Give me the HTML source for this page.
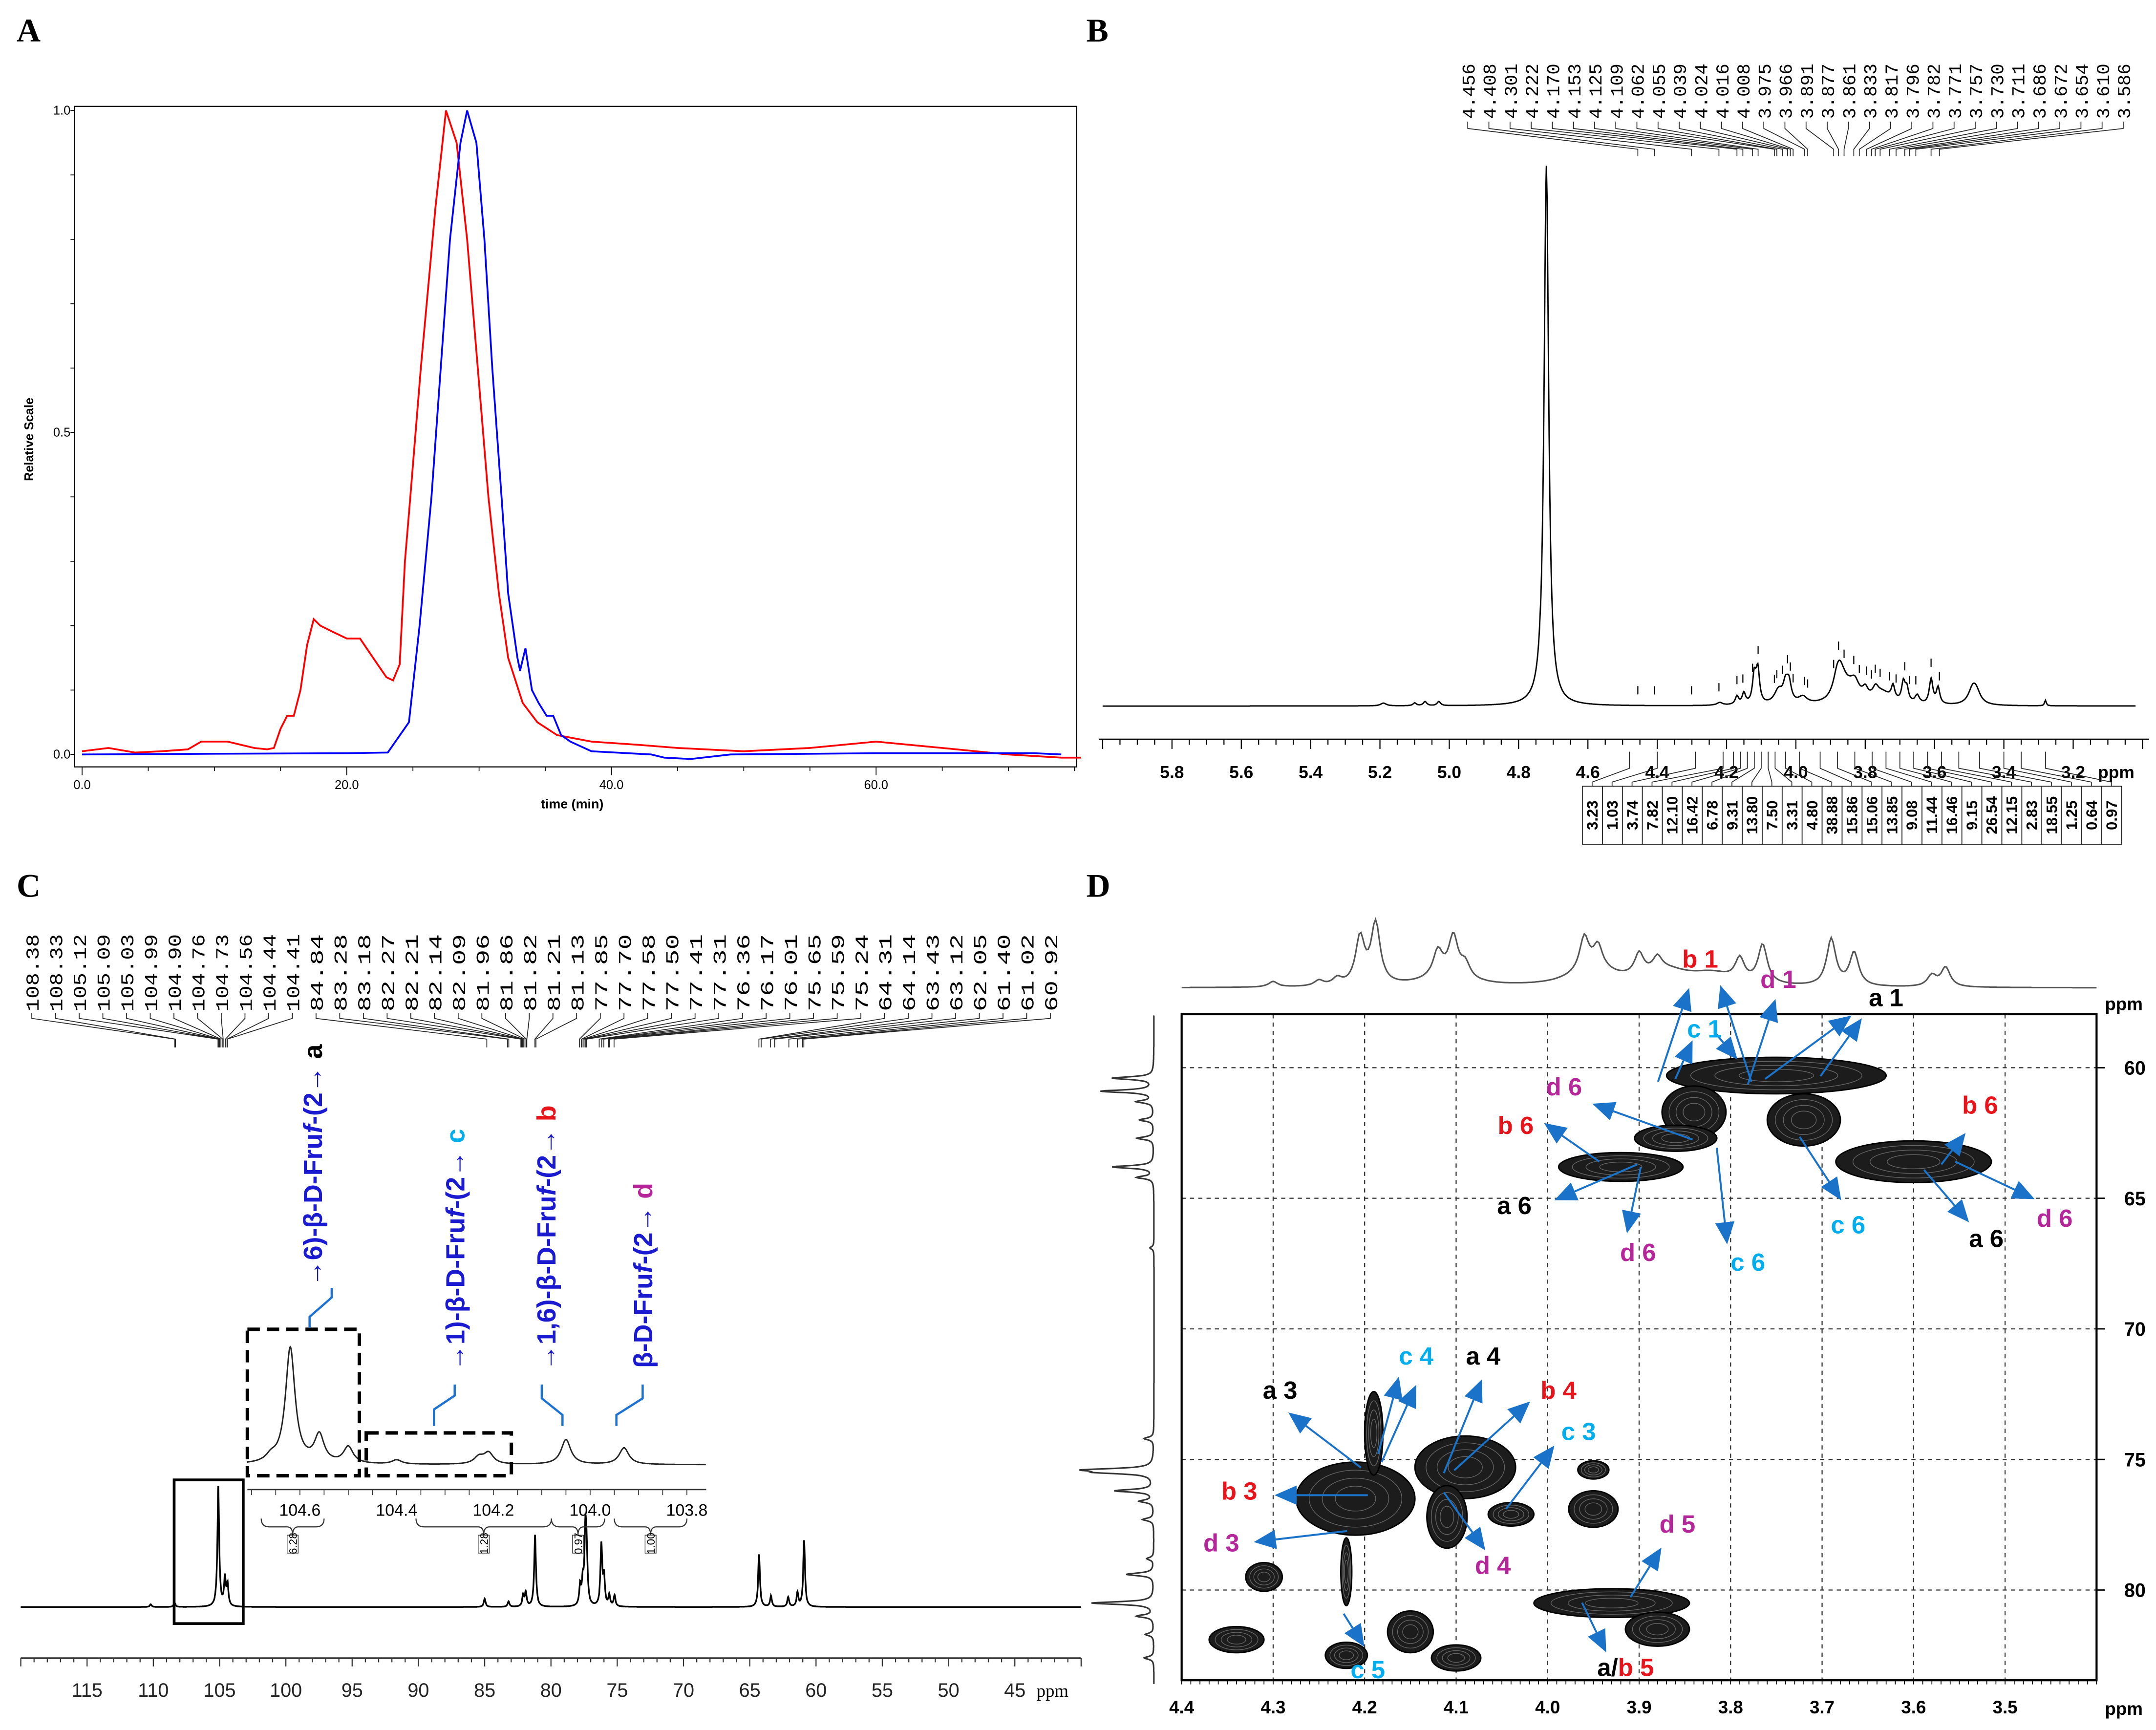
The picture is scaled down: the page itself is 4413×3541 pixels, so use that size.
<!DOCTYPE html>
<html><head><meta charset="utf-8">
<style>html,body{margin:0;padding:0;background:#fff}svg{display:block}</style>
</head><body>
<svg id="fig" xmlns="http://www.w3.org/2000/svg" width="4413" height="3541" viewBox="0 0 1560 1252" preserveAspectRatio="none" font-family="Liberation Sans, sans-serif">
<rect width="1560" height="1252" fill="#fff"/>
<text x="12" y="30" font-family="Liberation Serif, serif" font-weight="bold" font-size="24">A</text>
<text x="786" y="30" font-family="Liberation Serif, serif" font-weight="bold" font-size="24">B</text>
<text x="12" y="649" font-family="Liberation Serif, serif" font-weight="bold" font-size="24">C</text>
<text x="786" y="649" font-family="Liberation Serif, serif" font-weight="bold" font-size="24">D</text>
<g id="pA"></g>
<g id="pB"></g>
<g id="pC"></g>
<g id="pD"></g>
</svg>
<script>
// ---------- Panel A data ----------
const redTime=[0,2,4,6,8,9,10,11,12,13,14,14.5,15,15.5,16,16.5,17,17.5,18,19,20,21,22,23,23.5,24,24.4,24.8,25.6,26.7,27.5,28.3,29.1,29.9,30.7,31.5,32.2,33.3,34.4,35.9,38.5,42,45,50,55,60,65,70,74,75.5];
const redVal=[0.005,0.01,0.003,0.005,0.008,0.02,0.02,0.02,0.015,0.01,0.008,0.01,0.04,0.06,0.06,0.1,0.17,0.21,0.2,0.19,0.18,0.18,0.15,0.12,0.115,0.14,0.3,0.4,0.6,0.85,1.0,0.95,0.8,0.6,0.4,0.25,0.15,0.08,0.05,0.03,0.02,0.015,0.01,0.005,0.01,0.02,0.01,0.0,-0.005,-0.005];
const blueTime=[0,10,20,23.1,24.7,25.5,26.4,27.1,27.8,28.6,29.1,29.8,30.4,31,31.7,32.2,32.9,33.1,33.5,34,34.5,35.1,35.6,36.2,36.9,38.5,43,44,46,49,60,72,74];
const blueVal=[0,0.001,0.002,0.003,0.05,0.2,0.4,0.6,0.8,0.95,1.0,0.95,0.8,0.6,0.4,0.25,0.15,0.13,0.165,0.1,0.08,0.06,0.06,0.03,0.02,0.005,0.0,-0.005,-0.007,0.0,0.002,0.002,0.0];
const aTimeTicks=[0,20,40,60];
const aTimeLabels=['0.0','20.0','40.0','60.0'];
const aValTicks=[0,0.5,1];
const aValLabels=['0.0','0.5','1.0'];
// ---------- Panel B data ----------
const bPeakPpm=[4.72,4.12,4.11,4.15,4.17,4.03,4.02,4.05,3.98,3.88,3.87,3.83,3.80,3.77,3.72,3.69,3.68,3.65,3.61,3.59,3.49,3.48,5.19,5.10,5.07,5.03,4.22,3.28,3.85,3.75];
const bPeakHeight=[391,20,24,8,6,12,14,10,5,16,12,10,7,7,10,14,10,6,18,12,10,8,2,2,3,3,2,4,10,8];
const bPeakWidth=[0.008,0.006,0.006,0.006,0.006,0.008,0.008,0.015,0.015,0.015,0.015,0.015,0.01,0.01,0.006,0.006,0.006,0.008,0.006,0.006,0.015,0.015,0.01,0.006,0.006,0.006,0.01,0.003,0.03,0.03];
const bShiftLabels=['4.456','4.408','4.301','4.222','4.170','4.153','4.125','4.109','4.062','4.055','4.039','4.024','4.016','4.008','3.975','3.966','3.891','3.877','3.861','3.833','3.817','3.796','3.782','3.771','3.757','3.730','3.711','3.686','3.672','3.654','3.610','3.586'];
const bAxisTicks=[5.8,5.6,5.4,5.2,5.0,4.8,4.6,4.4,4.2,4.0,3.8,3.6,3.4,3.2];
const bIntegrals=['3.23','1.03','3.74','7.82','12.10','16.42','6.78','9.31','13.80','7.50','3.31','4.80','38.88','15.86','15.06','13.85','9.08','11.44','16.46','9.15','26.54','12.15','2.83','18.55','1.25','0.64','0.97'];
const bIntegralPpm=[4.48,4.40,4.29,4.21,4.18,4.16,4.14,4.12,4.10,4.08,4.06,4.03,3.99,3.93,3.88,3.83,3.78,3.74,3.70,3.66,3.62,3.58,3.53,3.47,3.40,3.35,3.28];
// ---------- Panel C data ----------
const cPeakPpm=[108.4,105.1,104.6,104.4,85.0,83.2,82.1,81.9,81.2,77.8,77.6,77.4,77.3,76.2,76.0,75.6,75.2,64.3,63.4,62.1,61.4,60.9,110.2];
const cPeakHeight=[3,87,20,15,6,4,8,10,52,14,16,52,30,44,20,8,8,38,8,7,10,48,2];
const cShiftLabels=['108.38','108.33','105.12','105.09','105.03','104.99','104.90','104.76','104.73','104.56','104.44','104.41','84.84','83.28','83.18','82.27','82.21','82.14','82.09','81.96','81.86','81.82','81.21','81.13','77.85','77.70','77.58','77.50','77.41','77.31','76.36','76.17','76.01','75.65','75.59','75.24','64.31','64.14','63.43','63.12','62.05','61.40','61.02','60.92'];
const cAxisTicks=[115,110,105,100,95,90,85,80,75,70,65,60,55,50,45];
const insetPeakPpm=[104.62,104.56,104.50,104.66,104.40,104.23,104.21,104.05,103.93];
const insetPeakHeight=[84,20,12,4,3,5,8,18,12];
const insetTicks=[104.6,104.4,104.2,104.0,103.8];
const insetIntegrals=['6.28','1.28','0.97','1.00'];
const insetIntegralFrom=[104.68,104.36,104.08,103.95];
const insetIntegralTo=[104.55,104.08,103.97,103.80];
// ---------- Panel D data ----------
const dHTicks=[4.4,4.3,4.2,4.1,4.0,3.9,3.8,3.7,3.6,3.5];
const dCTicks=[60,65,70,75,80];
const dProjHPpm=[4.205,4.188,4.12,4.103,4.09,3.96,3.945,3.90,3.88,3.79,3.765,3.69,3.665,3.565,3.58,4.30,4.25,4.23,3.95,3.87,3.82,4.11];
const dProjHAmp=[34,44,18,28,10,24,16,16,10,16,28,34,24,14,8,4,4,5,12,10,8,8];
const dProjCPpm=[60.4,60.9,61.3,62.0,62.7,63.8,64.2,66.9,74.2,75.4,75.5,76.2,76.6,77.3,78.8,79.4,80.5,81.0,81.7,82.6];
const dProjCAmp=[30,38,12,10,12,30,12,3,7,45,33,28,10,8,5,20,45,12,6,7];
const blobH=[3.75,3.84,3.86,3.72,3.92,3.60,4.21,4.22,4.19,4.09,4.11,4.04,3.95,3.95,4.31,3.93,3.88,4.34,4.22,4.15,4.10];
const blobC=[60.3,61.7,62.7,62.0,63.8,63.6,76.5,79.3,74.0,75.3,77.2,77.1,75.4,76.9,79.5,80.5,81.5,81.9,82.5,81.6,82.6];
const blobRH=[0.12,0.035,0.045,0.04,0.068,0.085,0.065,0.006,0.01,0.055,0.022,0.025,0.017,0.027,0.02,0.085,0.035,0.03,0.023,0.025,0.027];
const blobRC=[0.7,1.0,0.5,1.0,0.55,0.8,1.4,1.3,1.6,1.2,1.2,0.45,0.35,0.7,0.55,0.55,0.65,0.5,0.5,0.8,0.5];

const NS='http://www.w3.org/2000/svg';
function mk(tag,attrs,parent){const e=document.createElementNS(NS,tag);for(const k in attrs)e.setAttribute(k,attrs[k]);parent.appendChild(e);return e;}
function tx(str,attrs,parent){const e=mk('text',attrs,parent);e.textContent=str;return e;}
function lor(x,p,h,w){return h*w*w/((x-p)*(x-p)+w*w);}

// ================= Panel A =================
(function(){
const g=document.getElementById('pA');
const xA=t=>59.4+t*9.575, yA=v=>546-v*466;
let r=mk('rect',{x:54,y:77,width:725,height:478,fill:'none',stroke:'#000','stroke-width':0.8},g);


for(let t=0;t<=75;t+=5){let l=mk('line',{x1:xA(t),x2:xA(t),y1:555,y2:t%20===0?561:558,stroke:'#000','stroke-width':0.6},g);

}
aTimeTicks.forEach((t,i)=>{let e=tx(aTimeLabels[i],{x:xA(t),y:571,'font-size':9,'text-anchor':'middle'},g);

});
for(let v=0;v<=1.001;v+=0.1){let l=mk('line',{x1:51,x2:54,y1:yA(v),y2:yA(v),stroke:'#000','stroke-width':0.6},g);

}
aValTicks.forEach((v,i)=>{let e=tx(aValLabels[i],{x:51,y:yA(v)+3,'font-size':9,'text-anchor':'end'},g);

});
let xt=tx('time (min)',{x:414,y:585,'font-size':9.5,'font-weight':'bold','text-anchor':'middle'},g);


let yt=tx('Relative Scale',{x:0,y:0,'font-size':9,'font-weight':'bold','text-anchor':'middle',transform:'translate(24,318) rotate(-90)'},g);


let rp=mk('polyline',{points:redTime.map((t,i)=>xA(t).toFixed(1)+','+yA(redVal[i]).toFixed(1)).join(' '),fill:'none',stroke:'#f00','stroke-width':1.3},g);


let bp=mk('polyline',{points:blueTime.map((t,i)=>xA(t).toFixed(1)+','+yA(blueVal[i]).toFixed(1)).join(' '),fill:'none',stroke:'#00f','stroke-width':1.3},g);


})();

// ================= Panel B =================
(function(){
const g=document.getElementById('pB');
const xB=p=>848+(5.8-p)*250.8;
const base=511;
function specY(p){let s=0;bPeakPpm.forEach((q,i)=>{s+=lor(p,q,bPeakHeight[i],bPeakWidth[i]);});return base-s;}
let pts=[];for(let p=6.0;p>=3.02;p-=0.002)pts.push(xB(p).toFixed(1)+','+specY(p).toFixed(1));
let sp=mk('polyline',{points:pts.join(' '),fill:'none',stroke:'#000','stroke-width':1},g);


let ax=mk('line',{x1:795,x2:1555,y1:535,y2:535,stroke:'#000','stroke-width':1},g);


for(let p=6.0;p>=3.0;p-=0.05){let major=Math.abs(p*5-Math.round(p*5))<1e-6;
let l=mk('line',{x1:xB(p),x2:xB(p),y1:535,y2:major?542:539,stroke:'#000','stroke-width':0.8},g);

}
bAxisTicks.forEach(p=>{let e=tx(p.toFixed(1),{x:xB(p),y:563,'font-size':12.5,'font-weight':'bold','text-anchor':'middle'},g);

});
let pu=tx('ppm',{x:1518,y:563,'font-size':12.5,'font-weight':'bold'},g);


bShiftLabels.forEach((s,i)=>{const x=1062+i*15.3;const p=parseFloat(s);
let t=tx(s,{x:0,y:0,'font-family':'Liberation Mono, monospace','font-size':13,textLength:40,lengthAdjust:'spacingAndGlyphs',transform:`translate(${x+5},86) rotate(-90)`},g);


let f=mk('polyline',{points:`${x},88 ${x},93 ${xB(p)},108 ${xB(p)},113`,fill:'none',stroke:'#222','stroke-width':0.6},g);


let tk=mk('line',{x1:xB(p),x2:xB(p),y1:specY(p)-14,y2:specY(p)-8,stroke:'#000','stroke-width':0.8},g);

});
bIntegrals.forEach((s,i)=>{const bx=1145+i*14.45;const p=bIntegralPpm[i];
let c=mk('polyline',{points:`${xB(p)},544 ${xB(p)},556 ${bx+7},566 ${bx+7},569`,fill:'none',stroke:'#222','stroke-width':0.6},g);


let r=mk('rect',{x:bx,y:569,width:14.45,height:42,fill:'none',stroke:'#222','stroke-width':0.6},g);


let t=tx(s,{x:0,y:0,'font-size':11,'font-weight':'bold','text-anchor':'middle',transform:`translate(${bx+11},590) rotate(-90)`},g);

});
})();

// ================= Panel C =================
(function(){
const g=document.getElementById('pC');
const xC=p=>63+(115-p)*9.59;
const base=1163;
let pts=[];for(let p=120;p>=40;p-=0.02){let s=0;cPeakPpm.forEach((q,i)=>{s+=lor(p,q,cPeakHeight[i],0.08);});pts.push(xC(p).toFixed(1)+','+(base-s).toFixed(1));}
let sp=mk('polyline',{points:pts.join(' '),fill:'none',stroke:'#000','stroke-width':1.2},g);


let ax=mk('line',{x1:15,x2:782,y1:1200,y2:1200,stroke:'#333','stroke-width':1.2},g);


for(let p=120;p>=40;p-=1){let l=mk('line',{x1:xC(p),x2:xC(p),y1:1200,y2:p%5===0?1206:1203,stroke:'#333','stroke-width':0.8},g);

}
cAxisTicks.forEach(p=>{let e=tx(String(p),{x:xC(p),y:1228,'font-size':14,'text-anchor':'middle',fill:'#222'},g);

});
let pu=tx('ppm',{x:750,y:1228,'font-size':13,'font-family':'Liberation Serif, serif'},g);


cShiftLabels.forEach((s,i)=>{const x=23+i*17.14;const p=parseFloat(s);
let t=tx(s,{x:0,y:0,'font-family':'Liberation Mono, monospace','font-size':13,textLength:56,lengthAdjust:'spacingAndGlyphs',transform:`translate(${x+5},732) rotate(-90)`},g);


let f=mk('polyline',{points:`${x},733 ${x},737 ${xC(p)},752 ${xC(p)},758`,fill:'none',stroke:'#222','stroke-width':0.6},g);

});
let sb=mk('rect',{x:126,y:1071,width:50,height:104,fill:'none',stroke:'#000','stroke-width':2},g);


const xI=p=>217+(104.6-p)*350;
let ip=[];for(let p=104.71;p>=103.76;p-=0.001){let s=0;insetPeakPpm.forEach((q,i)=>{s+=lor(p,q,insetPeakHeight[i],0.012);});ip.push(xI(p).toFixed(1)+','+(1060-s).toFixed(1));}
let isp=mk('polyline',{points:ip.join(' '),fill:'none',stroke:'#222','stroke-width':1},g);


let iax=mk('line',{x1:179,x2:511,y1:1078,y2:1078,stroke:'#333','stroke-width':1},g);


for(let p=104.7;p>=103.76;p-=0.05){let l=mk('line',{x1:xI(p),x2:xI(p),y1:1078,y2:1082,stroke:'#333','stroke-width':0.6},g);

}
insetTicks.forEach(p=>{let e=tx(p.toFixed(1),{x:xI(p),y:1097,'font-size':12,'text-anchor':'middle'},g);

});
insetIntegrals.forEach((s,i)=>{const a=xI(insetIntegralFrom[i]),b=xI(insetIntegralTo[i]),m=(a+b)/2;
let pth=mk('path',{d:`M${a},1099 q0,6 6,6 L${m-4},1105 q4,0 4,6 q0,-6 4,-6 L${b-6},1105 q6,0 6,-6`,fill:'none',stroke:'#333','stroke-width':0.8},g);


let r=mk('rect',{x:m-4,y:1111,width:8,height:13,fill:'none',stroke:'#333','stroke-width':0.5},g);


let t=tx(s,{x:0,y:0,'font-size':8,'text-anchor':'middle',transform:`translate(${m+3},1117) rotate(-90)`},g);

});
let d1=mk('rect',{x:179,y:962,width:81,height:106,fill:'none',stroke:'#000','stroke-width':2.5,'stroke-dasharray':'9,5'},g);


let d2=mk('rect',{x:265,y:1037,width:105,height:31,fill:'none',stroke:'#000','stroke-width':2.5,'stroke-dasharray':'9,5'},g);


const conns=[[224,961,224,953,240,939,240,932],[314,1032,314,1020,329,1010,329,1002],[407,1032,407,1024,392,1012,392,1002],[446,1032,446,1024,465,1012,465,1002]];
conns.forEach(c=>{let p=mk('polyline',{points:`${c[0]},${c[1]} ${c[2]},${c[3]} ${c[4]},${c[5]} ${c[6]},${c[7]}`,fill:'none',stroke:'#1e73d2','stroke-width':1.6},g);

});
const labs=[[233,931,'→6)-β-D-Fru','-(2→ ','a','#000'],[336,992,'→1)-β-D-Fru','-(2→ ','c','#00aeef'],[402,992,'→1,6)-β-D-Fru','-(2→ ','b','#e8141b'],[472,990,'β-D-Fru','-(2→ ','d','#b5269a']];
labs.forEach(L=>{let t=mk('text',{x:0,y:0,'font-size':19,'font-weight':'bold',fill:'#1a1ad0',transform:`translate(${L[0]},${L[1]}) rotate(-90)`},g);


let s1=mk('tspan',{},t);s1.textContent=L[2];
let s2=mk('tspan',{'font-style':'italic'},t);s2.textContent='f';
let s3=mk('tspan',{},t);s3.textContent=L[3];
let s4=mk('tspan',{fill:L[5]},t);s4.textContent=L[4];});
})();

// ================= Panel D =================
(function(){
const g=document.getElementById('pD');
const xD=h=>855+(4.4-h)*662, yD=c=>772.7+(c-60)*18.9;
const zx=v=>784.7+v*0.5, zy=v=>629.2+v*0.399;
dHTicks.slice(1).forEach(h=>{let l=mk('line',{x1:xD(h),x2:xD(h),y1:734,y2:1216,stroke:'#333','stroke-width':0.8,'stroke-dasharray':'3,3'},g);

});
dCTicks.forEach(c=>{let l=mk('line',{x1:855,x2:1517,y1:yD(c),y2:yD(c),stroke:'#333','stroke-width':0.8,'stroke-dasharray':'3,3'},g);


let e=tx(String(c),{x:1537,y:yD(c)+5,'font-size':14,'font-weight':'bold'},g);


let k=mk('line',{x1:1517,x2:1523,y1:yD(c),y2:yD(c),stroke:'#000','stroke-width':1},g);

});
let fr=mk('rect',{x:855,y:734,width:662,height:482,fill:'none',stroke:'#000','stroke-width':1.5},g);


for(let h=4.4;h>=3.4;h-=0.01){let l=mk('line',{x1:xD(h),x2:xD(h),y1:1216,y2:1219,stroke:'#000','stroke-width':0.6},g);

}
dHTicks.forEach(h=>{let e=tx(h.toFixed(1),{x:xD(h),y:1240,'font-size':13,'font-weight':'bold','text-anchor':'middle'},g);

});
let pu=tx('ppm',{x:1523,y:1241,'font-size':13,'font-weight':'bold'},g);


let pu2=tx('ppm',{x:1523,y:731,'font-size':13,'font-weight':'bold'},g);


let tp=[];for(let h=4.4;h>=3.399;h-=0.002){let s=0;dProjHPpm.forEach((q,i)=>{s+=lor(h,q,dProjHAmp[i],i>=18?0.03:0.006);});tp.push(xD(h).toFixed(1)+','+(715-s).toFixed(1));}
let tpl=mk('polyline',{points:tp.join(' '),fill:'none',stroke:'#555','stroke-width':1.1},g);


let lp=[];for(let c=58;c<=83.6;c+=0.02){let s=0;dProjCPpm.forEach((q,i)=>{s+=lor(c,q,dProjCAmp[i],0.06);});lp.push((835-s).toFixed(1)+','+yD(c).toFixed(1));}
let lpl=mk('polyline',{points:lp.join(' '),fill:'none',stroke:'#333','stroke-width':1.1},g);


blobH.forEach((h,i)=>{const cx=xD(h),cy=yD(blobC[i]),rx=blobRH[i]*662,ry=blobRC[i]*18.9;
let e=mk('ellipse',{cx:cx,cy:cy,rx:rx,ry:ry,fill:'#1c1c1c',stroke:'#000','stroke-width':1},g);


for(let k=1;k<4;k++){let r=mk('ellipse',{cx:cx,cy:cy,rx:rx*(1-k*0.22),ry:ry*(1-k*0.22),fill:'none',stroke:'#666','stroke-width':0.5},g);

}});
const arrows=[[830,385,875,215],[965,385,920,210],[960,390,1000,235],[985,380,1110,265],[1065,375,1125,270],[855,380,880,310],[915,300,945,345],[880,490,735,425],[745,530,665,460],[800,535,680,600],[805,540,785,660],[915,505,930,680],[1035,485,1095,600],[1240,535,1275,478],[1260,530,1375,598],[1215,545,1280,640],[400,1085,295,985],[425,1060,455,920],[430,1075,480,935],[520,1095,575,925],[535,1090,645,965],[610,1160,680,1045],[410,1135,275,1135],[380,1200,245,1220],[520,1130,580,1235],[790,1320,835,1230],[720,1330,755,1420],[375,1350,405,1410]];
arrows.forEach(a=>{const x1=zx(a[0]),y1=zy(a[1]),x2=zx(a[2]),y2=zy(a[3]);const dx=x2-x1,dy=y2-y1,L=Math.hypot(dx,dy),ux=dx/L,uy=dy/L;
const bx=x2-ux*16,by=y2-uy*16;
let l=mk('line',{x1:x1,y1:y1,x2:bx,y2:by,stroke:'#1a73c8','stroke-width':1.4},g);


let hd=mk('polygon',{points:`${x2},${y2} ${bx-uy*7},${by+ux*7} ${bx+uy*7},${by-ux*7}`,fill:'#1a73c8'},g);

});
const R='#e8141b',C='#00aeef',M='#b5269a',K='#000';
const labs=[['b 1',865,178,R],['d 1',978,215,M],['a 1',1135,248,K],['c 1',872,305,C],['d 6',668,410,M],['b 6',598,480,R],['a 6',597,625,K],['d 6',775,710,M],['c 6',935,728,C],['c 6',1080,660,C],['b 6',1270,443,R],['d 6',1378,648,M],['a 6',1280,685,K],['c 4',455,898,C],['a 4',552,898,K],['a 3',258,960,K],['b 4',660,960,R],['c 3',690,1035,C],['b 3',198,1143,R],['d 3',172,1237,M],['d 4',565,1278,M],['d 5',832,1203,M],['c 5',385,1467,C]];
labs.forEach(L=>{let t=tx(L[0],{x:zx(L[1]),y:zy(L[2]),'font-size':18,'font-weight':'bold',fill:L[3]},g);

});
let ab=mk('text',{x:zx(742),y:zy(1463),'font-size':18,'font-weight':'bold'},g);


let s1=mk('tspan',{fill:'#000'},ab);s1.textContent='a/';
let s2=mk('tspan',{fill:R},ab);s2.textContent='b 5';
})();
</script>
</body></html>
